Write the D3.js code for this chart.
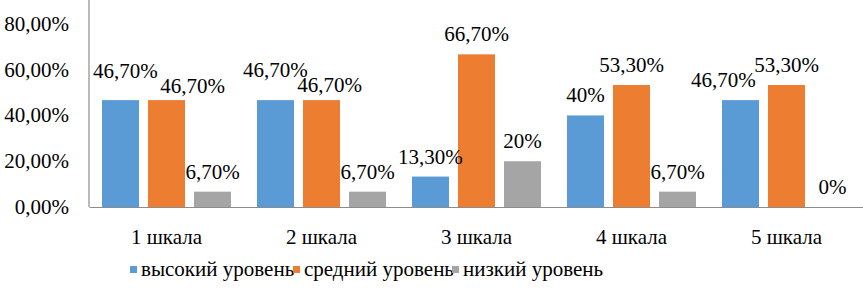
<!DOCTYPE html>
<html><head><meta charset="utf-8">
<script src="https://cdn.jsdelivr.net/npm/d3@7"></script>
</head>
<body style="margin:0"><svg id="c" width="863" height="293"></svg>
<script>
const categories = ["1 шкала","2 шкала","3 шкала","4 шкала","5 шкала"];
const seriesNames = ["высокий уровень","средний уровень","низкий уровень"];
const high = [46.7, 46.7, 13.3, 40, 46.7];
const medium = [46.7, 46.7, 66.7, 53.3, 53.3];
const low = [6.7, 6.7, 20, 6.7, 0];
const highLabels = ["46,70%","46,70%","13,30%","40%","46,70%"];
const mediumLabels = ["46,70%","46,70%","66,70%","53,30%","53,30%"];
const lowLabels = ["6,70%","6,70%","20%","6,70%","0%"];
const yTicks = [0,20,40,60,80];
const yTickLabels = ["0,00%","20,00%","40,00%","60,00%","80,00%"];
const colors = ["#5B9BD5","#ED7D31","#A5A5A5"];
// label nudges (dx, dy) to mimic spreadsheet label collision avoidance
const labelNudge = [
  [[5,-9],[0,-10],[0,0],[0,0],[-17,0]],
  [[26,6],[8,5],[0,0],[0,0],[0,0]],
  [[0,0],[0,0],[0,0],[0,0],[0,0]]
];

const values = [high, medium, low];
const labels = [highLabels, mediumLabels, lowLabels];
const svg = d3.select("#c");
function txt(g, x, y, s, anchor){
  return g.append("text").attr("x",x).attr("y",y).attr("font-size",21)
    .attr("font-family","Times New Roman").attr("text-anchor",anchor||"middle").text(s);
}

const x0 = d3.scaleBand().domain(categories).range([89,864]).paddingInner(0).paddingOuter(0);
const x1 = d3.scaleBand().domain([0,1,2]).range([0,x0.bandwidth()]).paddingInner(0.1957).paddingOuter(0.2826);
const y = d3.scaleLinear().domain([0,90]).range([207,1]);

// bars
values.forEach((arr,si)=>{
  svg.append("g").selectAll("rect").data(arr).join("rect")
    .attr("x",(d,i)=>x0(categories[i])+x1(si))
    .attr("y",d=>y(d))
    .attr("width",x1.bandwidth())
    .attr("height",d=>y(0)-y(d))
    .attr("fill",colors[si]);
});

// axes
const ya = svg.append("g").attr("transform","translate(89,0)")
  .call(d3.axisLeft(y).tickValues(yTicks).tickSize(0).tickFormat(""));
ya.attr("font-family",null).attr("font-size",null);
ya.select(".domain").attr("stroke","#8c8c8c").attr("stroke-width",1.2).attr("d",`M0,${y(0)}V0`);
const xa = svg.append("g").attr("transform",`translate(0,${y(0)})`)
  .call(d3.axisBottom(x0).tickSize(0).tickFormat(""));
xa.attr("font-family",null).attr("font-size",null);
xa.select(".domain").attr("stroke","#8c8c8c").attr("stroke-width",1.2);

const yl = svg.append("g");
yTicks.forEach((t,i)=>txt(yl,69,y(t)+7,yTickLabels[i],"end"));
const xl = svg.append("g");
categories.forEach(c=>txt(xl,x0(c)+x0.bandwidth()/2,244,c));

// data labels
const dl = svg.append("g");
values.forEach((arr,si)=>{
  arr.forEach((v,i)=>{
    const cx = x0(categories[i])+x1(si)+x1.bandwidth()/2;
    const [dx,dy] = labelNudge[si][i];
    txt(dl,cx+dx,y(v)-13+dy,labels[si][i]);
  });
});

// legend
const lg = svg.append("g");
const legendX = [130,293,452];
seriesNames.forEach((n,i)=>{
  lg.append("rect").attr("x",legendX[i]).attr("y",266).attr("width",7).attr("height",7).attr("fill",colors[i]);
  txt(lg,legendX[i]+11,276,n,"start");
});
</script></body></html>
